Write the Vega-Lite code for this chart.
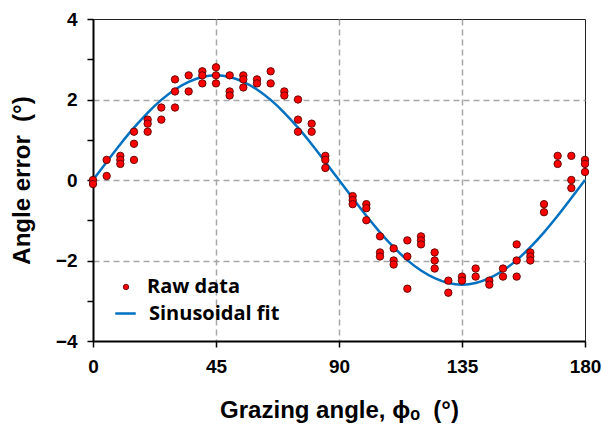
{
  "$schema": "https://vega.github.io/schema/vega-lite/v6.json",
  "width": 492,
  "height": 322,
  "autosize": {"type": "none"},
  "padding": {"left": 93, "top": 19, "right": 18, "bottom": 87},
  "background": "white",
  "datasets": {
    "raw": [
      {"angle": 0, "err": 0}, {"angle": 0, "err": -0.1},
      {"angle": 5, "err": 0.5}, {"angle": 5, "err": 0.1},
      {"angle": 10, "err": 0.6}, {"angle": 10, "err": 0.5}, {"angle": 10, "err": 0.4},
      {"angle": 15, "err": 1.2}, {"angle": 15, "err": 0.9}, {"angle": 15, "err": 0.5},
      {"angle": 20, "err": 1.5}, {"angle": 20, "err": 1.4}, {"angle": 20, "err": 1.2},
      {"angle": 25, "err": 1.8}, {"angle": 25, "err": 1.5},
      {"angle": 30, "err": 2.5}, {"angle": 30, "err": 2.2}, {"angle": 30, "err": 1.8},
      {"angle": 35, "err": 2.6}, {"angle": 35, "err": 2.2},
      {"angle": 40, "err": 2.7}, {"angle": 40, "err": 2.6}, {"angle": 40, "err": 2.4},
      {"angle": 45, "err": 2.8}, {"angle": 45, "err": 2.6}, {"angle": 45, "err": 2.4},
      {"angle": 50, "err": 2.6}, {"angle": 50, "err": 2.2}, {"angle": 50, "err": 2.1},
      {"angle": 55, "err": 2.6}, {"angle": 55, "err": 2.5}, {"angle": 55, "err": 2.3},
      {"angle": 60, "err": 2.5}, {"angle": 60, "err": 2.4},
      {"angle": 65, "err": 2.7}, {"angle": 65, "err": 2.4},
      {"angle": 70, "err": 2.2}, {"angle": 70, "err": 2.1},
      {"angle": 75, "err": 2.0}, {"angle": 75, "err": 1.5}, {"angle": 75, "err": 1.2},
      {"angle": 80, "err": 1.4}, {"angle": 80, "err": 1.2},
      {"angle": 85, "err": 0.6}, {"angle": 85, "err": 0.5}, {"angle": 85, "err": 0.3},
      {"angle": 95, "err": -0.4}, {"angle": 95, "err": -0.5}, {"angle": 95, "err": -0.6},
      {"angle": 100, "err": -0.6}, {"angle": 100, "err": -0.7}, {"angle": 100, "err": -1.0},
      {"angle": 105, "err": -1.4}, {"angle": 105, "err": -1.8}, {"angle": 105, "err": -1.9},
      {"angle": 110, "err": -1.7}, {"angle": 110, "err": -2.0}, {"angle": 110, "err": -2.1},
      {"angle": 115, "err": -1.5}, {"angle": 115, "err": -1.9}, {"angle": 115, "err": -2.7},
      {"angle": 120, "err": -1.4}, {"angle": 120, "err": -1.5}, {"angle": 120, "err": -1.6},
      {"angle": 125, "err": -1.8}, {"angle": 125, "err": -2.0}, {"angle": 125, "err": -2.2},
      {"angle": 130, "err": -2.5}, {"angle": 130, "err": -2.8},
      {"angle": 135, "err": -2.4}, {"angle": 135, "err": -2.5},
      {"angle": 140, "err": -2.2}, {"angle": 140, "err": -2.4},
      {"angle": 145, "err": -2.5}, {"angle": 145, "err": -2.6},
      {"angle": 150, "err": -2.2}, {"angle": 150, "err": -2.4},
      {"angle": 155, "err": -1.6}, {"angle": 155, "err": -2.0}, {"angle": 155, "err": -2.4},
      {"angle": 160, "err": -1.8}, {"angle": 160, "err": -1.9}, {"angle": 160, "err": -2.0},
      {"angle": 165, "err": -0.6}, {"angle": 165, "err": -0.8},
      {"angle": 170, "err": 0.6}, {"angle": 170, "err": 0.4},
      {"angle": 175, "err": 0.6}, {"angle": 175, "err": 0}, {"angle": 175, "err": -0.2},
      {"angle": 180, "err": 0.5}, {"angle": 180, "err": 0.4}, {"angle": 180, "err": 0.2}
    ],
    "fit": [
      {"angle": 0, "err": 0}, {"angle": 5, "err": 0.45}, {"angle": 10, "err": 0.89},
      {"angle": 15, "err": 1.3}, {"angle": 20, "err": 1.67}, {"angle": 25, "err": 1.99},
      {"angle": 30, "err": 2.25}, {"angle": 35, "err": 2.44}, {"angle": 40, "err": 2.56},
      {"angle": 45, "err": 2.6}, {"angle": 50, "err": 2.56}, {"angle": 55, "err": 2.44},
      {"angle": 60, "err": 2.25}, {"angle": 65, "err": 1.99}, {"angle": 70, "err": 1.67},
      {"angle": 75, "err": 1.3}, {"angle": 80, "err": 0.89}, {"angle": 85, "err": 0.45},
      {"angle": 90, "err": 0}, {"angle": 95, "err": -0.45}, {"angle": 100, "err": -0.89},
      {"angle": 105, "err": -1.3}, {"angle": 110, "err": -1.67}, {"angle": 115, "err": -1.99},
      {"angle": 120, "err": -2.25}, {"angle": 125, "err": -2.44}, {"angle": 130, "err": -2.56},
      {"angle": 135, "err": -2.6}, {"angle": 140, "err": -2.56}, {"angle": 145, "err": -2.44},
      {"angle": 150, "err": -2.25}, {"angle": 155, "err": -1.99}, {"angle": 160, "err": -1.67},
      {"angle": 165, "err": -1.3}, {"angle": 170, "err": -0.89}, {"angle": 175, "err": -0.45},
      {"angle": 180, "err": 0}
    ]
  },
  "encoding": {
    "x": {
      "field": "angle", "type": "quantitative",
      "scale": {"domain": [0, 180], "nice": false, "zero": false},
      "axis": {
        "values": [0, 45, 90, 135, 180],
        "title": "Grazing angle, ϕₒ\u00a0\u00a0(°)",
        "titlePadding": 22,
        "labelPadding": 10,
        "labelFlush": false,
        "gridOpacity": {"condition": {"test": "datum.value == 0 || datum.value == 180", "value": 0}, "value": 1}
      }
    },
    "y": {
      "field": "err", "type": "quantitative",
      "scale": {"domain": [-4, 4], "nice": false},
      "axis": {
        "values": [-4, -3, -2, -1, 0, 1, 2, 3, 4],
        "labelExpr": "datum.value % 2 == 0 ? datum.label : ''",
        "title": "Angle error\u00a0\u00a0(°)",
        "titlePadding": 21,
        "labelPadding": 10,
        "labelFlush": false,
        "gridOpacity": {"condition": {"test": "datum.value % 2 != 0 || abs(datum.value) == 4", "value": 0}, "value": 1}
      }
    }
  },
  "layer": [
    {
      "data": {"name": "fit"},
      "mark": {"type": "line", "strokeWidth": 2.5, "interpolate": "monotone"},
      "encoding": {
        "color": {"datum": "Sinusoidal fit", "type": "nominal",
          "scale": {"range": ["#0070c0"]},
          "legend": {"title": null, "orient": "none", "legendX": 21, "legendY": 283,
            "symbolType": "stroke", "symbolSize": 420, "symbolStrokeWidth": 2.5, "labelOffset": 12}
        }
      }
    },
    {
      "data": {"name": "raw"},
      "mark": {"type": "point", "filled": true, "size": 55, "opacity": 1, "stroke": "#5a0000", "strokeWidth": 0.9},
      "encoding": {
        "color": {"datum": "Raw data", "type": "nominal",
          "scale": {"range": ["#ff0000"]},
          "legend": {"title": null, "orient": "none", "legendX": 23, "legendY": 258,
            "symbolType": "circle", "symbolSize": 30, "symbolStrokeWidth": 0.8, "labelOffset": 11}
        }
      }
    }
  ],
  "resolve": {"scale": {"color": "independent"}, "legend": {"color": "independent"}},
  "config": {
    "view": {"stroke": "#222", "strokeWidth": 1},
    "axis": {
      "domainColor": "black", "domainWidth": 2,
      "tickColor": "black", "tickWidth": 1.5, "tickSize": 6,
      "labelFont": "Arial, Liberation Sans, sans-serif", "labelFontWeight": "bold", "labelFontSize": 19, "labelColor": "black",
      "titleFont": "Arial, Liberation Sans, sans-serif", "titleFontWeight": "bold", "titleFontSize": 24, "titleColor": "black",
      "gridColor": "#a6a6a6", "gridDash": [6, 4], "gridWidth": 1.5
    },
    "legend": {
      "labelFont": "Open Sans", "labelFontWeight": "bold", "labelFontSize": 20, "labelColor": "black"
    }
  }
}
